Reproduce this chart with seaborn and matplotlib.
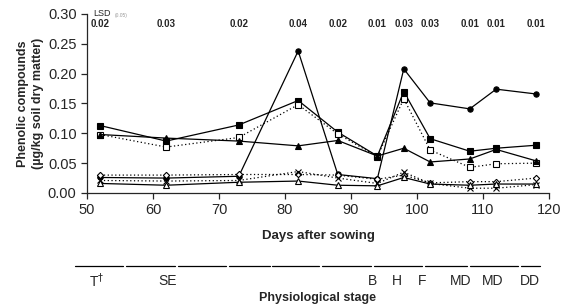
"""
Phenolic compounds in soil across days after sowing, with LSD values
and physiological stages below the axis.
"""

import pandas as pd
import matplotlib.pyplot as plt
import matplotlib.transforms as mtransforms
import seaborn as sns

sns.set_style("ticks")
plt.rcParams["font.family"] = ["Liberation Sans", "DejaVu Sans"]

days = [52, 62, 73, 82, 88, 94, 98, 102, 108, 112, 118]

# series values (ug/kg soil dry matter)
filled_circle = [0.026, 0.025, 0.028, 0.238, 0.031, 0.024, 0.208, 0.151, 0.141, 0.174, 0.166]
filled_square = [0.113, 0.087, 0.114, 0.155, 0.102, 0.062, 0.170, 0.091, 0.070, 0.075, 0.080]
open_square = [0.098, 0.077, 0.093, 0.148, 0.099, 0.061, 0.158, 0.072, 0.043, 0.049, 0.050]
filled_triangle = [0.098, 0.092, 0.087, 0.079, 0.088, 0.062, 0.075, 0.052, 0.057, 0.073, 0.054]
open_diamond = [0.030, 0.030, 0.031, 0.031, 0.030, 0.023, 0.030, 0.017, 0.019, 0.019, 0.025]
cross = [0.021, 0.020, 0.021, 0.036, 0.025, 0.016, 0.035, 0.016, 0.008, 0.008, 0.014]
open_triangle = [0.016, 0.013, 0.018, 0.020, 0.013, 0.012, 0.026, 0.015, 0.013, 0.015, 0.015]

lsd_values = ["0.02", "0.03", "0.02", "0.04", "0.02", "0.01", "0.03", "0.03", "0.01", "0.01", "0.01"]

stage_labels = ["T$^{\u2020}$", "SE", "B", "H", "F", "MD", "MD", "DD"]
stage_pos = [51.5, 62.2, 93.2, 97.0, 100.8, 106.6, 111.4, 117.1]
stage_bounds = [48.0, 55.7, 63.6, 71.3, 77.9, 85.4, 93.3, 101.0, 107.8, 115.5, 118.8]

df = pd.DataFrame({
    "day": days,
    "circle": filled_circle,
    "square": filled_square,
    "osquare": open_square,
    "triangle": filled_triangle,
    "diamond": open_diamond,
    "cross": cross,
    "otriangle": open_triangle,
})

DOT = (0, (1, 2))
styles = [
    ("circle", "o", "black", "-"),
    ("square", "s", "black", "-"),
    ("osquare", "s", "white", DOT),
    ("triangle", "^", "black", "-"),
    ("diamond", "D", "white", DOT),
    ("cross", "x", "black", DOT),
    ("otriangle", "^", "white", "-"),
]

fig = plt.figure(figsize=(5.67, 3.08), dpi=100)
ax = fig.add_axes([0.1534, 0.3734, 0.8148, 0.5812])

for col, marker, face, ls in styles:
    sns.lineplot(data=df, x="day", y=col, ax=ax, color="black",
                 marker=marker, markersize=3.8 if marker != "D" else 3.2,
                 markerfacecolor=face, markeredgecolor="black",
                 markeredgewidth=0.8, linewidth=0.9, linestyle=ls,
                 clip_on=False)

ax.set_xlim(50, 120)
ax.set_ylim(0, 0.30)
ax.set_xticks(range(50, 121, 10))
ax.set_yticks([0, 0.05, 0.10, 0.15, 0.20, 0.25, 0.30])
ax.set_yticklabels([f"{v:.2f}" for v in ax.get_yticks()])
ax.tick_params(labelsize=10.5, direction="out", length=4, width=0.9)
for s in ["left", "bottom"]:
    ax.spines[s].set_linewidth(0.9)
sns.despine(ax=ax)
ax.set_xlabel("")
ax.set_ylabel("Phenolic compounds\n(\u00b5g/kg soil dry matter)",
              fontsize=9, fontweight="bold", labelpad=3, linespacing=1.25)

# LSD row
ax.text(51.0, 0.300, "LSD", fontsize=6.5, ha="left", va="center")
ax.text(54.2, 0.297, "(0.05)", fontsize=3.5, color="#999999",
        ha="left", va="center")
for d, v in zip(days, lsd_values):
    ax.text(d, 0.283, v, fontsize=7, ha="center", va="center",
            fontweight="semibold")

# x label
ax.text(0.5, -0.24, "Days after sowing", transform=ax.transAxes,
        ha="center", va="center", fontsize=9.5, fontweight="bold")

# physiological stage band
trans = mtransforms.blended_transform_factory(ax.transData, ax.transAxes)
for a, b in zip(stage_bounds[:-1], stage_bounds[1:]):
    ax.plot([a + 0.2, b - 0.2], [-0.408, -0.408], color="black",
            linewidth=0.9, transform=trans, clip_on=False)
for x, lab in zip(stage_pos, stage_labels):
    ax.text(x, -0.49, lab, transform=trans, ha="center", va="center",
            fontsize=10)
ax.text(0.5, -0.585, "Physiological stage", transform=ax.transAxes,
        ha="center", va="center", fontsize=9, fontweight="bold")

fig.savefig("out.png", dpi=100)
